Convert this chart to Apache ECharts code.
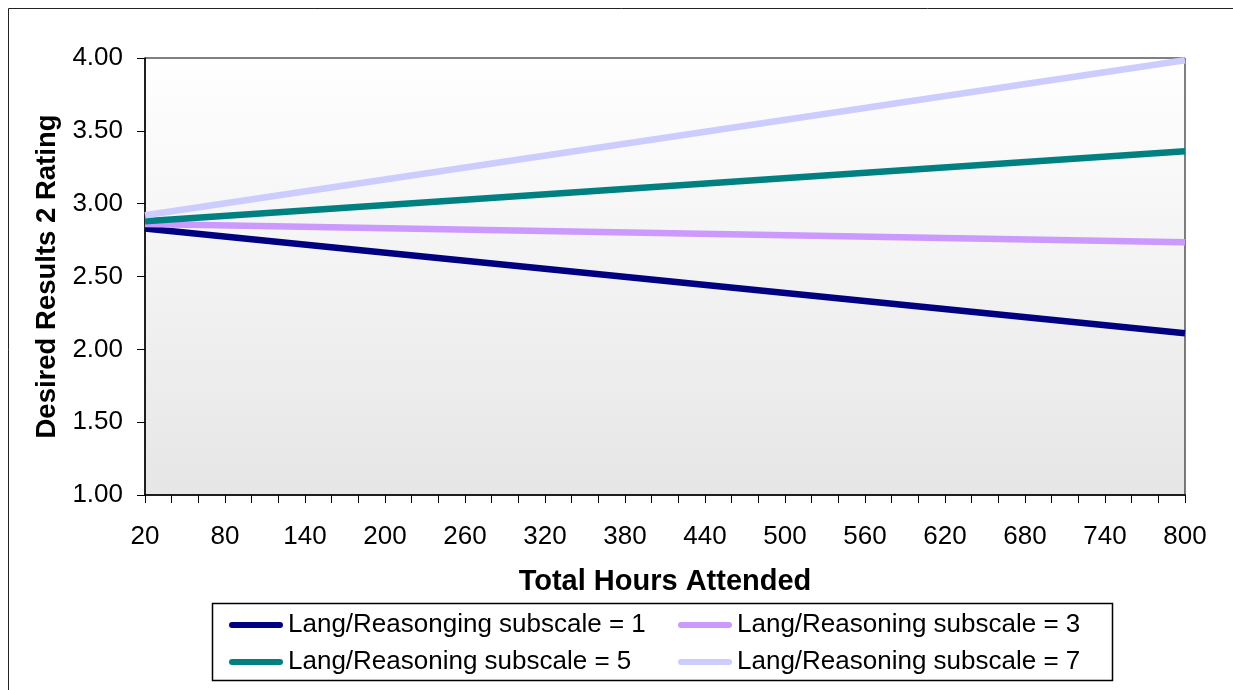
<!DOCTYPE html>
<html>
<head>
<meta charset="utf-8">
<script src="https://cdn.jsdelivr.net/npm/echarts@6/dist/echarts.min.js"></script>
<style>
  html, body { margin: 0; padding: 0; background: #ffffff; }
  #chart { width: 1233px; height: 690px; }
</style>
</head>
<body>
<div id="chart"></div>
<script>
// Predicted Desired Results 2 rating by total hours attended,
// one fitted line per Lang/Reasoning subscale level.
const hours = [20, 800];
const hourTicks = [20, 80, 140, 200, 260, 320, 380, 440, 500, 560, 620, 680, 740, 800];
const seriesNames = [
  'Lang/Reasonging subscale = 1',
  'Lang/Reasoning subscale = 3',
  'Lang/Reasoning subscale = 5',
  'Lang/Reasoning subscale = 7'
];
const subscale1 = [2.83, 2.11];
const subscale3 = [2.86, 2.735];
const subscale5 = [2.88, 3.36];
const subscale7 = [2.92, 3.985];
const seriesColors = ['#000080', '#CC99FF', '#008080', '#CCCCFF'];

const FONT = '"Liberation Sans", Arial, sans-serif';
const pill = 'path://M3,0 L51,0 A3,3 0 0 1 51,6 L3,6 A3,3 0 0 1 3,0 Z';

function pairs(xs, ys) {
  return xs.map((x, i) => [x, ys[i]]);
}

const values = [subscale1, subscale3, subscale5, subscale7];

const chart = echarts.init(document.getElementById('chart'), null, { renderer: 'canvas' });

chart.setOption({
  animation: false,
  backgroundColor: '#ffffff',
  textStyle: { fontFamily: FONT },
  grid: {
    left: 145, right: 48, top: 58, bottom: 195,
    show: true,
    borderColor: '#000000',
    borderWidth: 1,
    backgroundColor: {
      type: 'linear', x: 0, y: 0, x2: 0, y2: 1,
      colorStops: [
        { offset: 0, color: '#ffffff' },
        { offset: 1, color: '#e6e6e6' }
      ]
    }
  },
  xAxis: {
    type: 'value',
    min: 20, max: 800, interval: 20,
    name: 'Total Hours Attended',
    nameLocation: 'middle',
    nameGap: 72,
    nameTextStyle: { fontFamily: FONT, fontSize: 29, fontWeight: 'bold', color: '#000' },
    axisLine: { show: true, onZero: false, lineStyle: { color: '#000', width: 1.5 } },
    axisTick: { show: true, inside: false, length: 8, lineStyle: { color: '#000', width: 1 } },
    axisLabel: {
      show: true, margin: 29, fontSize: 26, color: '#000', fontFamily: FONT,
      showMinLabel: true, showMaxLabel: true,
      formatter: v => (hourTicks.indexOf(v) >= 0 ? String(v) : '')
    },
    splitLine: { show: false }
  },
  yAxis: {
    type: 'value',
    min: 1, max: 4, interval: 0.5,
    name: 'Desired Results 2 Rating',
    nameLocation: 'middle',
    nameGap: 83,
    nameRotate: 90,
    nameTextStyle: { fontFamily: FONT, fontSize: 27.5, fontWeight: 'bold', color: '#000' },
    axisLine: { show: true, lineStyle: { color: '#000', width: 1.5 } },
    axisTick: { show: true, inside: false, length: 8, lineStyle: { color: '#000', width: 1 } },
    axisLabel: {
      margin: 22, fontSize: 26, color: '#000', fontFamily: FONT,
      formatter: v => v.toFixed(2)
    },
    splitLine: { show: false }
  },
  legend: [
    {
      data: [seriesNames[0], seriesNames[2]],
      orient: 'vertical',
      left: 224, top: 605,
      itemWidth: 54, itemHeight: 6, itemGap: 7,
      icon: pill,
      selectedMode: false,
      textStyle: { fontFamily: FONT, fontSize: 26, color: '#000', lineHeight: 30 }
    },
    {
      data: [seriesNames[1], seriesNames[3]],
      orient: 'vertical',
      left: 673, top: 605,
      itemWidth: 54, itemHeight: 6, itemGap: 7,
      icon: pill,
      selectedMode: false,
      textStyle: { fontFamily: FONT, fontSize: 26, color: '#000', lineHeight: 30 }
    }
  ],
  graphic: [
    {
      type: 'rect', silent: true, z: -10,
      shape: { x: 8.5, y: 8.5, width: 1400, height: 900 },
      style: { fill: 'none', stroke: '#222', lineWidth: 1 }
    },
    {
      type: 'rect', silent: true,
      shape: { x: 212.5, y: 603.5, width: 900, height: 77 },
      style: { fill: '#ffffff', stroke: '#000', lineWidth: 1.5 },
      z: -1
    }
  ],
  series: values.map((ys, i) => ({
    name: seriesNames[i],
    type: 'line',
    data: pairs(hours, ys),
    showSymbol: false,
    symbol: 'none',
    lineStyle: { color: seriesColors[i], width: 6.5, cap: 'butt' },
    itemStyle: { color: seriesColors[i] },
    z: 2 + i
  }))
});
</script>
</body>
</html>
